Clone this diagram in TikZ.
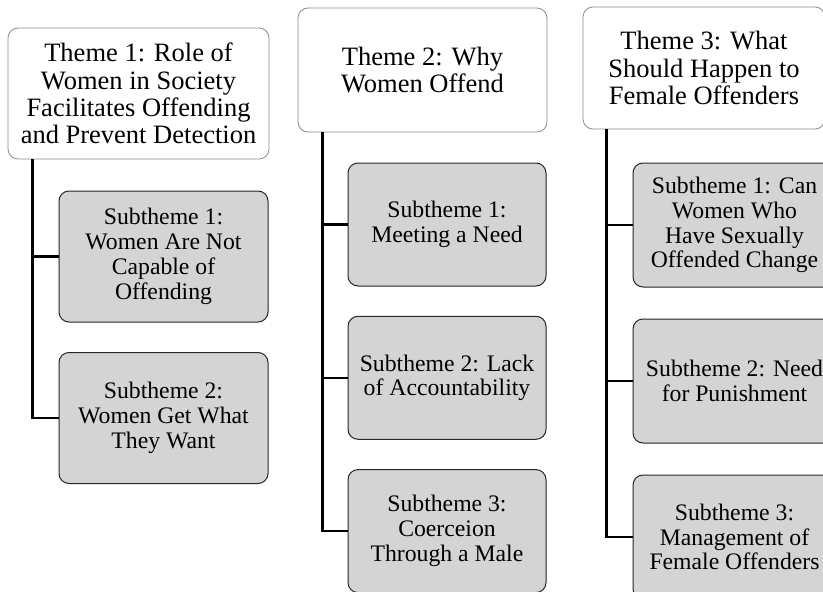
\documentclass[tikz,border=0pt]{standalone}
\usepackage{fontspec}
\setmainfont{Liberation Serif}
\usepackage{xcolor}
\usetikzlibrary{positioning}

\begin{document}
\begin{tikzpicture}[x=1pt, y=-1pt, auto]
\tikzstyle{theme} = [rectangle, draw=black!45, line width=0.8pt, fill=white,
  text centered, rounded corners=10pt, inner sep=0pt,
  font=\fontsize{26.5}{27.4}\selectfont]
\tikzstyle{block} = [rectangle, draw=black!85, line width=1pt, fill=black!17,
  text centered, rounded corners=10pt, inner sep=0pt,
  font=\fontsize{23.7}{24.8}\selectfont]
\tikzstyle{line} = [draw, line width=2.4pt]

    \clip (0,0) rectangle (823,592);
    \fill[white] (0,0) rectangle (823,592);

    % themes
    \node[align=center] [theme, minimum width=261pt, minimum height=131pt] (t1) at (138.5,93.5)
    {Theme 1: Role of\\Women in Society\\Facilitates Offending\\and Prevent Detection};
    \node[align=center] [theme, minimum width=249pt, minimum height=124pt] (t2) at (422.5,70)
    {Theme 2: Why\\Women Offend};
    \node[align=center] [theme, minimum width=242pt, minimum height=122pt] (t3) at (704,68)
    {Theme 3: What\\Should Happen to\\Female Offenders};

    % subthemes
    \begin{scope}[node distance=161.5pt]
    \tikzstyle{sub} = [block, minimum width=209pt, minimum height=131pt]
    \node[align=center] [sub] (s11) at (163.5,256.5)
    {Subtheme 1:\\Women Are Not\\Capable of\\Offending};
    \node[align=center] [sub, below of=s11] (s12)
    {Subtheme 2:\\Women Get What\\They Want};
    \end{scope}

    \begin{scope}[node distance=153.3pt]
    \tikzstyle{sub} = [block, minimum width=198pt, minimum height=123pt]
    \node[align=center] [sub] (s21) at (447,224.5)
    {Subtheme 1:\\Meeting a Need};
    \node[align=center] [sub, below of=s21] (s22)
    {Subtheme 2: Lack\\of Accountability};
    \node[align=center] [sub, below of=s22] (s23)
    {Subtheme 3:\\Coerceion\\Through a Male};
    \end{scope}

    \begin{scope}[node distance=156pt]
    \tikzstyle{sub} = [block, minimum width=203pt, minimum height=124pt]
    \node[align=center] [sub] (s31) at (734.5,225)
    {Subtheme 1: Can\\Women Who\\Have Sexually\\Offended Change};
    \node[align=center] [sub, below of=s31] (s32)
    {Subtheme 2: Need\\for Punishment};
    \node[align=center] [sub, below of=s32] (s33)
    {Subtheme 3:\\Management of\\Female Offenders};
    \end{scope}

    % trunks
    \coordinate (tr1) at ([xshift=25pt]t1.south west);
    \coordinate (tr2) at ([xshift=25pt]t2.south west);
    \coordinate (tr3) at ([xshift=24pt]t3.south west);
    \path [line] (tr1) |- (s11.west);
    \path [line] (tr1) |- (s12.west);
    \path [line] (tr2) |- (s21.west);
    \path [line] (tr2) |- (s22.west);
    \path [line] (tr2) |- (s23.west);
    \path [line] (tr3) |- (s31.west);
    \path [line] (tr3) |- (s32.west);
    \path [line] (tr3) |- (s33.west);
\end{tikzpicture}
\end{document}
